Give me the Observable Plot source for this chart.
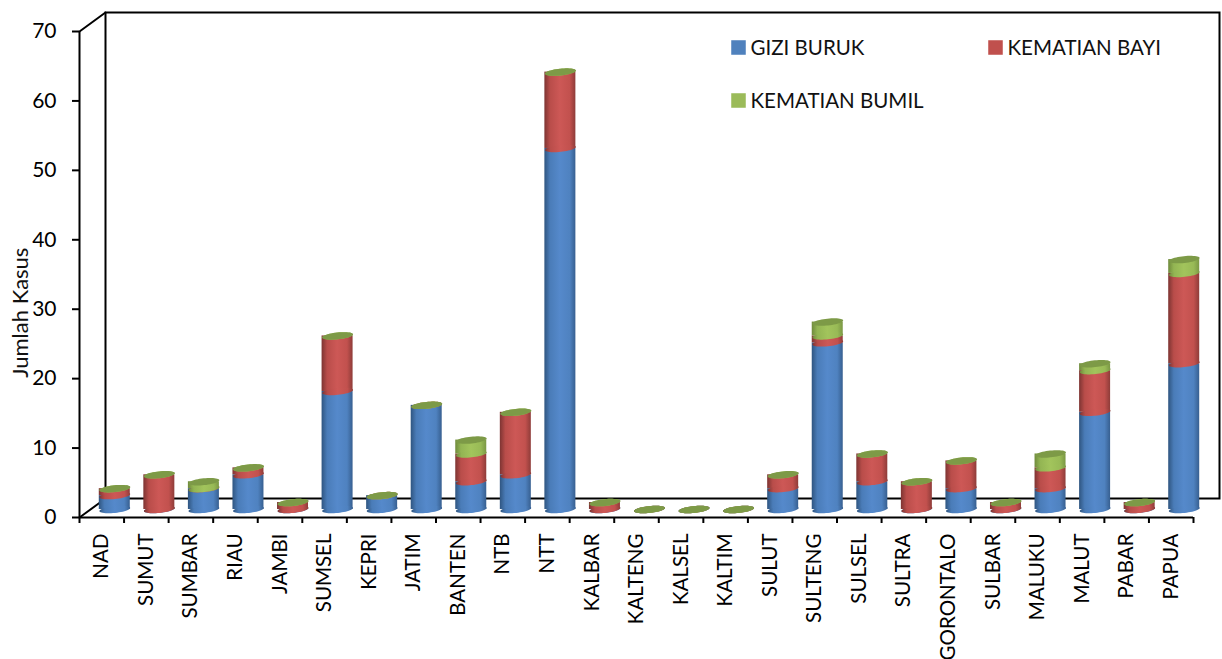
<!DOCTYPE html>
<html>
<head>
<meta charset="utf-8">
<script src="https://cdn.jsdelivr.net/npm/d3@7"></script>
<script src="https://cdn.jsdelivr.net/npm/@observablehq/plot@0.6"></script>
<style>
  html, body { margin: 0; padding: 0; background: #fff; }
  svg { display: block; }
</style>
</head>
<body>
<div id="chart"></div>
<script>
// Kasus per provinsi
const provinces = ["NAD","SUMUT","SUMBAR","RIAU","JAMBI","SUMSEL","KEPRI","JATIM","BANTEN","NTB","NTT","KALBAR","KALTENG","KALSEL","KALTIM","SULUT","SULTENG","SULSEL","SULTRA","GORONTALO","SULBAR","MALUKU","MALUT","PABAR","PAPUA"];
const giziBuruk    = [2,0,3,5,0,17,2,15,4,5,52,0,0,0,0,3,24,4,0,3,0,3,14,0,21];
const kematianBayi = [1,5,0,1,1,8,0,0,4,9,11,1,0,0,0,2,1,4,4,4,1,3,6,1,13];
const kematianBumil= [0,0,1,0,0,0,0,0,2,0,0,0,0,0,0,0,2,0,0,0,0,2,1,0,2];
const yTicks = [0,10,20,30,40,50,60,70];

const seriesNames = ["GIZI BURUK","KEMATIAN BAYI","KEMATIAN BUMIL"];
const seriesValues = [giziBuruk, kematianBayi, kematianBumil];
const gradientIds = ["cylBlue","cylRed","cylGreen"];
const gradientStops = [
  ["#2f5580","#4a7cb8","#5589cb","#4f82c0","#375f90"],
  ["#7d3432","#b94d4a","#cd5856","#c2514e","#8e3c39"],
  ["#6f8a3c","#93b553","#a2c45c","#98ba56","#7a9744"]
];
const swatchColors = ["#4f81bd","#c0504d","#9bbb59"];
const topColor = "#7d9a47";

const font = "Lato, 'Noto Sans', sans-serif";
const labelSize = 20.5;

// Oblique depth of the chart box
const depthX = 26, depthY = -19;
// Cylinder placement inside its category band
const cylDx = 13, cylDy = -8, cylR = 15.5, cylFlat = 0.22, cylTilt = -6 * Math.PI / 180;

// Running totals for the stacked segments
const segments = seriesNames.map((name, s) =>
  provinces.map((p, i) => {
    const y1 = d3.sum(seriesValues.slice(0, s), v => v[i]);
    return {province: p, y1, y2: y1 + seriesValues[s][i]};
  })
);
const totals = provinces.map((p, i) => ({province: p, total: d3.sum(seriesValues, v => v[i])}));

// Flattened, slightly tilted ellipse used for cylinder caps
const cap = {
  draw(ctx, size) {
    const r = Math.sqrt(size / Math.PI);
    for (let k = 0; k < 48; ++k) {
      const t = k / 48 * 2 * Math.PI;
      const ex = r * Math.cos(t), ey = r * cylFlat * Math.sin(t);
      const px = ex * Math.cos(cylTilt) - ey * Math.sin(cylTilt);
      const py = ex * Math.sin(cylTilt) + ey * Math.cos(cylTilt);
      k ? ctx.lineTo(px, py) : ctx.moveTo(px, py);
    }
    ctx.closePath();
  }
};

// Horizontal gradients give the cylinders their round shading
function gradients() {
  const defs = d3.create("svg:defs");
  gradientIds.forEach((id, s) => {
    const g = defs.append("linearGradient").attr("id", id).attr("x1", 0).attr("x2", 1).attr("y1", 0).attr("y2", 0);
    gradientStops[s].forEach((c, k) => g.append("stop").attr("offset", [0, .18, .5, .82, 1][k]).attr("stop-color", c));
  });
  return defs.node();
}

const width = 1222, height = 659;
const marginLeft = 79, marginRight = 29, marginTop = 31, marginBottom = 142;
const step = (width - marginLeft - marginRight) / provinces.length;
const inset = (step - 2 * cylR) / 2;

const cylinderMarks = segments.flatMap((rows, s) => [
  Plot.barY(rows, {x: "province", y1: "y1", y2: "y2", fill: `url(#${gradientIds[s]})`, dx: cylDx, dy: cylDy, insetLeft: inset, insetRight: inset}),
  Plot.dot(rows, {x: "province", y: "y1", symbol: cap, r: cylR, fill: `url(#${gradientIds[s]})`, dx: cylDx, dy: cylDy})
]);

const oblique = {draw(ctx, l) { ctx.moveTo(0, 0); ctx.lineTo(0, -l); }};

// Legend sits inside the plot area
const legendCols = [0, 257, 0], legendRows = [0, 0, 53];
const legendMarks = seriesNames.flatMap((name, s) => [
  Plot.dot([name], {frameAnchor: "top-left", symbol: "square", r: 8.2, fill: swatchColors[s], dx: 659 + legendCols[s], dy: 16 + legendRows[s]}),
  Plot.text([name], {frameAnchor: "top-left", text: d => d, textAnchor: "start", lineAnchor: "middle", fontSize: labelSize, fontFamily: font, fill: "#111", dx: 671 + legendCols[s], dy: 17 + legendRows[s]})
]);

const chart = Plot.plot({
  width, height, marginLeft, marginRight, marginTop, marginBottom,
  style: {background: "#fff", fontFamily: font, color: "#000"},
  x: {domain: provinces, padding: 0, round: false, label: null},
  y: {domain: [0, 70], label: null},
  marks: [
    gradients,
    Plot.frame({stroke: "#000", strokeWidth: 2, dx: depthX, dy: depthY}),
    Plot.vector(yTicks.filter(t => t === 0 || t === 70), {x: () => provinces[0], y: d => d, length: Math.hypot(depthX, depthY), rotate: Math.atan2(depthX, -depthY) * 180 / Math.PI, anchor: "start", shape: oblique, stroke: "#000", strokeWidth: 2, dx: -step / 2}),
    Plot.ruleY([0], {stroke: "#000", strokeWidth: 2}),
    Plot.ruleX([provinces[0]], {x: d => d, y1: 0, y2: 70, stroke: "#000", strokeWidth: 2, dx: -step / 2}),
    Plot.ruleX(provinces, {x: d => d, y1: 0, y2: 0, insetBottom: -6, stroke: "#000", strokeWidth: 2, dx: -step / 2}),
    Plot.ruleX(provinces.slice(-1), {x: d => d, y1: 0, y2: 0, insetBottom: -6, stroke: "#000", strokeWidth: 2, dx: step / 2}),
    Plot.axisY({ticks: yTicks, tickSize: 7, tickPadding: 16, strokeWidth: 2, fontSize: 21, label: null, anchor: "left"}),
    Plot.axisX({tickSize: 0, tickRotate: -90, tickPadding: 16, fontSize: labelSize, label: null}),
    ...cylinderMarks,
    Plot.dot(totals, {x: "province", y: "total", symbol: cap, r: cylR, fill: topColor, dx: cylDx, dy: cylDy}),
    Plot.text(["Jumlah Kasus"], {y: () => 29.5, frameAnchor: "left", text: d => d, textAnchor: "middle", rotate: -90, fontSize: 22, fontFamily: font, fill: "#111", dx: -59}),
    ...legendMarks
  ]
});
document.getElementById("chart").append(chart);
</script>
</body>
</html>
